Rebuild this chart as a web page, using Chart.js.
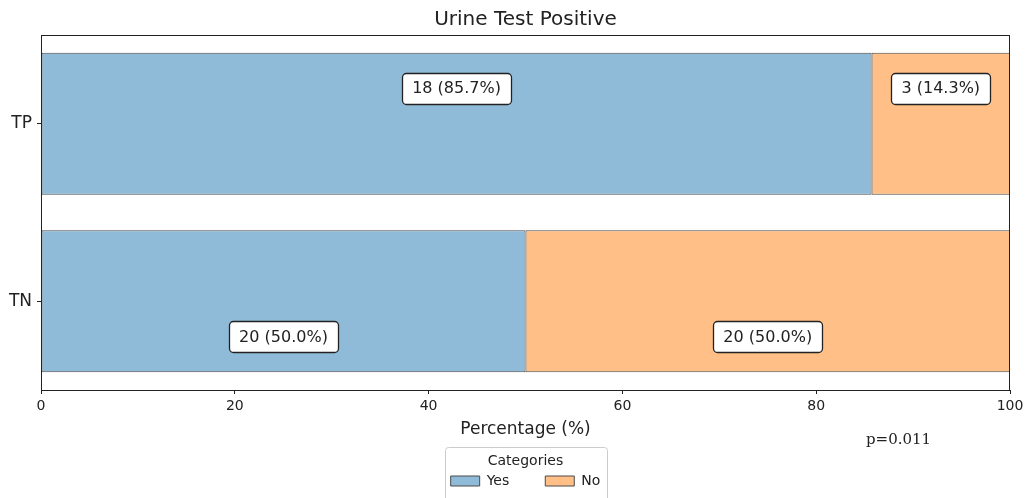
<!DOCTYPE html>
<html>
<head>
<meta charset="utf-8">
<script src="https://cdn.jsdelivr.net/npm/chart.js@4/dist/chart.umd.min.js"></script>
<style>
  html, body { margin: 0; padding: 0; background: #fff; overflow: hidden; }
</style>
</head>
<body>
<canvas id="myChart" width="1025" height="498"></canvas>
<script>
const groups = ["TP", "TN"]
const yesCounts = [18, 20]
const noCounts = [3, 20]
const xTicks = [0, 20, 40, 60, 80, 100]
const pValue = "p=0.011"

const totals = groups.map((g, i) => yesCounts[i] + noCounts[i])
const yesPct = yesCounts.map((v, i) => (v / totals[i]) * 100)
const noPct = noCounts.map((v, i) => (v / totals[i]) * 100)

Chart.defaults.font.family = "'DejaVu Sans', sans-serif"
Chart.defaults.color = "#222"

// title and legend are centred over the plot, not the whole canvas
const centerOnPlot = {
  id: "centerOnPlot",
  afterLayout(chart) {
    chart.legend.left = chart.chartArea.left
    chart.titleBlock.left = chart.chartArea.left
  },
}

// box around the plot, like matplotlib spines
const frame = {
  id: "frame",
  afterDraw(chart) {
    const { ctx, chartArea: a } = chart
    ctx.save()
    ctx.strokeStyle = "#222"
    ctx.lineWidth = 1
    ctx.strokeRect(Math.round(a.left) + 0.5, Math.round(a.top) + 0.5,
      Math.round(a.right - a.left) - 1, Math.round(a.bottom - a.top))
    ctx.restore()
  },
}

// "n (pct%)" boxes on each segment
const segmentLabels = {
  id: "segmentLabels",
  afterDatasetsDraw(chart) {
    const { ctx } = chart
    const yScale = chart.scales.y
    const step = yScale.getPixelForValue(1) - yScale.getPixelForValue(0)
    const counts = [yesCounts, noCounts]
    const pcts = [yesPct, noPct]
    ctx.save()
    ctx.font = "16px 'DejaVu Sans'"
    ctx.textAlign = "center"
    ctx.textBaseline = "middle"
    chart.data.datasets.forEach((ds, d) => {
      chart.getDatasetMeta(d).data.forEach((bar, i) => {
        const text = `${counts[d][i]} (${pcts[d][i].toFixed(1)}%)`
        const cx = (bar.x + bar.base) / 2
        const cy = bar.y + (i === 0 ? -0.2 : 0.2) * step
        const w = ctx.measureText(text).width + 20
        const h = 31
        ctx.beginPath()
        ctx.roundRect(Math.round(cx - w / 2) + 0.5, Math.round(cy - h / 2) + 0.5, Math.round(w), h, 4)
        ctx.fillStyle = "#fff"
        ctx.fill()
        ctx.lineWidth = 1.3
        ctx.strokeStyle = "#222"
        ctx.stroke()
        ctx.fillStyle = "#222"
        ctx.fillText(text, cx, cy + 1)
      })
    })
    ctx.restore()
  },
}

// legend border and the p-value note
const extras = {
  id: "extras",
  afterDraw(chart) {
    const { ctx, chartArea: a } = chart
    const lg = chart.legend
    const pad = lg.options.labels.padding
    const rowW = lg.lineWidths[0] - pad
    const cx = (lg.left + lg.right) / 2
    ctx.save()
    ctx.strokeStyle = "#cccccc"
    ctx.lineWidth = 1
    ctx.beginPath()
    ctx.roundRect(Math.round(cx - rowW / 2 - 6) + 0.5, Math.round(lg.top) + 0.5, Math.round(rowW + 12), 70, 3)
    ctx.stroke()

    ctx.font = "15px 'DejaVu Serif'"
    ctx.fillStyle = "#222"
    ctx.textAlign = "center"
    ctx.textBaseline = "middle"
    ctx.fillText(pValue, chart.scales.x.getPixelForValue(88.5), a.bottom + 50)
    ctx.restore()
  },
}

const ctx = document.querySelector("#myChart")
new Chart(ctx, {
  type: "bar",
  data: {
    labels: groups,
    datasets: [
      {
        label: "Yes",
        data: yesPct,
        backgroundColor: "rgb(143, 187, 217)",
        borderColor: "#4a4a4a",
        borderWidth: 1,
        borderSkipped: false,
      },
      {
        label: "No",
        data: noPct,
        backgroundColor: "rgb(255, 191, 134)",
        borderColor: "#4a4a4a",
        borderWidth: 1,
        borderSkipped: false,
      },
    ],
  },
  options: {
    indexAxis: "y",
    responsive: false,
    animation: false,
    categoryPercentage: 0.8,
    barPercentage: 1.0,
    layout: { padding: { left: 4, right: 15, top: 0, bottom: 0 } },
    scales: {
      x: {
        stacked: true,
        min: 0,
        max: 100,
        afterBuildTicks(scale) {
          scale.ticks = xTicks.map((v) => ({ value: v }))
        },
        afterFit(scale) {
          scale.height = 57
          scale.paddingLeft = 0
          scale.paddingRight = 0
        },
        grid: { drawOnChartArea: false, tickLength: 4, color: "#222" },
        border: { display: false },
        ticks: { font: { size: 14 }, padding: 4, maxRotation: 0 },
        title: {
          display: true,
          text: "Percentage (%)",
          font: { size: 17 },
          padding: { top: 4, bottom: 7 },
        },
      },
      y: {
        stacked: true,
        afterFit(scale) {
          scale.width = 37
        },
        grid: { drawOnChartArea: false, offset: false, tickLength: 4, color: "#222" },
        border: { display: false },
        ticks: { font: { size: 17 }, padding: 5 },
      },
    },
    plugins: {
      title: {
        display: true,
        text: "Urine Test Positive",
        font: { size: 20, weight: "normal" },
        color: "#222",
        padding: { top: 8, bottom: 3 },
      },
      legend: {
        position: "bottom",
        title: {
          display: true,
          text: "Categories",
          font: { size: 14 },
          padding: { top: 7, bottom: -32.8 },
        },
        labels: {
          boxWidth: 29,
          boxHeight: 10,
          font: { size: 14 },
          padding: 36,
        },
      },
      tooltip: { enabled: false },
    },
  },
  plugins: [centerOnPlot, frame, segmentLabels, extras],
})
</script>
</body>
</html>
